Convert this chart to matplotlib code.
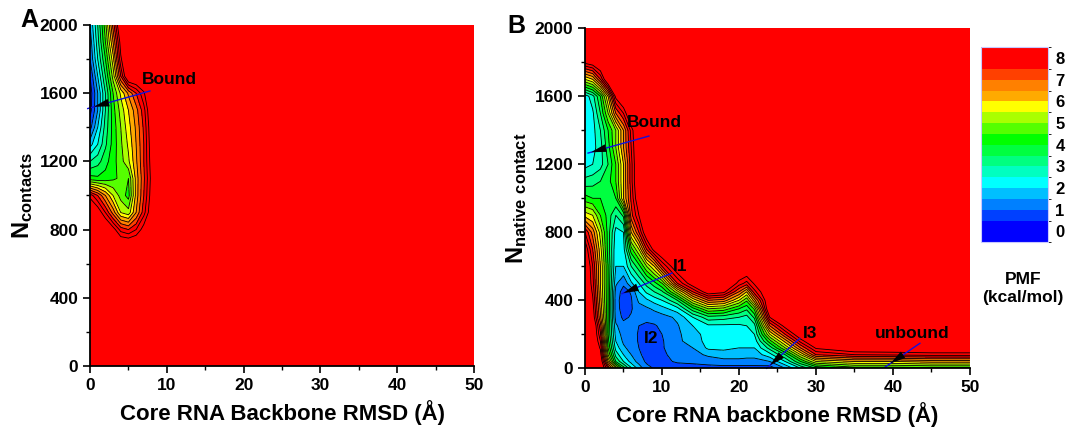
import numpy as np
import matplotlib
matplotlib.use("Agg")
import matplotlib.pyplot as plt
from matplotlib.colors import ListedColormap, BoundaryNorm
from matplotlib.cm import ScalarMappable

plt.rcParams['font.family'] = ['Liberation Sans', 'DejaVu Sans']
plt.rcParams['font.weight'] = 'bold'
plt.rcParams['mathtext.fontset'] = 'custom'
plt.rcParams['mathtext.bf'] = 'Liberation Sans:bold'
plt.rcParams['mathtext.rm'] = 'Liberation Sans:bold'

R = 9.5  # saturated PMF (red)

# Panel A: PMF (kcal/mol) on RMSD (x) vs N contacts (rows)
rmsd_a = [0, 1, 2, 3, 4, 5, 6, 7, 8, 9, 10, 50]
ncont_a = [0, 600, 700, 800, 900, 1000, 1100, 1200, 1300, 1400, 1500, 1600, 1700, 1800, 1900, 2000]
pmf_a = [
    [R, R, R, R, R, R, R, R, R, R, R, R],
    [R, R, R, R, R, R, R, R, R, R, R, R],
    [R, R, R, R, R, R, R, R, R, R, R, R],
    [R, R, R, 8.8, 7.8, 7.5, 8.0, 8.8, R, R, R, R],
    [R, 9.0, 8.0, 6.8, 5.5, 5.2, 6.5, 7.8, 9.0, R, R, R],
    [8.3, 7.5, 6.5, 5.5, 4.8, 4.3, 6.2, 7.5, 8.8, R, R, R],
    [4.2, 4.1, 4.2, 4.4, 4.6, 4.5, 6.2, 7.4, 8.7, R, R, R],
    [3.0, 3.3, 3.8, 4.3, 4.8, 5.4, 6.4, 7.5, 8.8, R, R, R],
    [1.8, 2.5, 3.4, 4.2, 4.9, 5.6, 6.5, 7.5, 8.9, R, R, R],
    [0.8, 2.0, 3.2, 4.2, 5.0, 5.8, 6.6, 7.6, 9.0, R, R, R],
    [0.3, 1.5, 3.0, 4.3, 5.2, 6.0, 6.8, 7.8, 9.2, R, R, R],
    [0.2, 1.5, 3.0, 4.5, 5.6, 6.6, 7.5, 8.4, R, R, R, R],
    [0.5, 2.0, 3.5, 5.2, 7.5, R, R, R, R, R, R, R],
    [1.0, 2.5, 4.0, 5.8, 8.4, R, R, R, R, R, R, R],
    [1.2, 2.8, 4.5, 6.5, 8.8, R, R, R, R, R, R, R],
    [1.5, 3.0, 4.8, 7.2, R, R, R, R, R, R, R, R],
]

# Panel B: PMF on RMSD vs N native contact
rmsd_b = [0, 1, 2, 3, 4, 5, 6, 7, 8, 9, 10, 12, 14, 16, 18, 20, 21, 22, 24, 26, 28, 30, 35, 40, 45, 50]
ncont_b = [0, 40, 80, 120, 160, 200, 250, 300, 350, 400, 450, 500, 600, 700, 800,
           900, 1000, 1100, 1200, 1300, 1400, 1500, 1600, 1700, 1800, 1900, 2000]
pmf_b = [
    [R, R, R, 7.5, 5.5, 3.8, 2.6, 1.8, 1.2, 0.95, 0.9, 0.8, 0.8, 0.8, 0.8, 0.8, 0.8, 0.8, 0.7, 1.5, 2.5, 3.5, 4.2, 4.2, 4.3, 4.3],
    [R, R, 9.2, 6.0, 3.5, 2.5, 1.8, 1.3, 0.9, 0.85, 0.9, 1.05, 1.1, 1.2, 1.3, 1.3, 1.3, 1.3, 1.5, 2.5, 4.0, 5.5, 6.0, 6.0, 6.2, 6.2],
    [R, R, 8.8, 5.0, 2.8, 2.0, 1.5, 1.1, 0.8, 0.8, 0.9, 1.2, 1.3, 1.6, 1.8, 1.8, 1.7, 1.7, 2.3, 3.5, 5.5, 7.5, 8.0, 8.1, 8.2, 8.2],
    [R, R, 8.4, 4.5, 2.3, 1.6, 1.3, 1.0, 0.75, 0.8, 0.95, 1.3, 1.5, 2.1, 2.1, 2.0, 2.0, 2.0, 3.2, 5.0, 7.0, 8.6, 9.2, 9.2, 9.3, 9.3],
    [R, R, 8.0, 4.2, 2.0, 1.4, 1.25, 0.95, 0.75, 0.8, 0.95, 1.4, 1.7, 2.2, 2.1, 2.1, 2.1, 2.2, 4.3, 6.2, 8.2, R, R, R, R, R],
    [R, R, 7.6, 4.0, 1.8, 1.3, 1.2, 0.95, 0.8, 0.85, 1.0, 1.4, 1.8, 2.2, 2.15, 2.2, 2.3, 2.5, 5.5, 7.5, 9.2, R, R, R, R, R],
    [R, R, 7.2, 4.0, 1.6, 1.15, 1.15, 1.0, 0.9, 0.95, 1.1, 1.45, 2.0, 2.4, 2.4, 2.4, 2.5, 2.8, 7.0, 8.8, R, R, R, R, R, R],
    [R, 9.0, 6.6, 4.0, 1.3, 0.9, 1.05, 1.15, 1.15, 1.2, 1.3, 1.6, 2.5, 3.3, 3.2, 3.0, 2.8, 3.6, 8.5, R, R, R, R, R, R, R],
    [R, 8.8, 6.4, 4.0, 1.2, 0.8, 0.95, 1.3, 1.4, 1.6, 1.8, 2.3, 3.8, 5.0, 4.8, 4.0, 3.6, 4.6, R, R, R, R, R, R, R, R],
    [R, 8.6, 6.2, 4.0, 1.2, 0.75, 0.95, 1.6, 1.9, 2.2, 2.5, 3.5, 5.6, 7.0, 6.8, 5.5, 4.6, 6.3, R, R, R, R, R, R, R, R],
    [R, 8.4, 6.1, 4.0, 1.3, 0.8, 1.05, 2.0, 2.6, 3.0, 3.4, 5.3, 7.5, 9.0, 8.7, 7.0, 6.0, 7.8, R, R, R, R, R, R, R, R],
    [R, 8.2, 6.0, 4.0, 1.6, 1.1, 1.9, 2.5, 3.2, 3.8, 4.5, 7.5, 9.0, R, R, 8.3, 7.8, 8.6, R, R, R, R, R, R, R, R],
    [R, 8.0, 6.0, 4.0, 2.0, 2.0, 3.0, 3.8, 5.0, 6.0, 7.5, 9.2, R, R, R, R, R, R, R, R, R, R, R, R, R, R],
    [9.0, 7.5, 5.7, 3.8, 2.1, 2.3, 4.3, 5.5, 7.5, 8.8, R, R, R, R, R, R, R, R, R, R, R, R, R, R, R, R],
    [8.0, 6.8, 5.3, 3.8, 2.3, 2.5, 6.0, 7.5, 9.2, R, R, R, R, R, R, R, R, R, R, R, R, R, R, R, R, R],
    [5.8, 5.5, 4.5, 3.8, 3.0, 3.6, 7.3, 8.5, R, R, R, R, R, R, R, R, R, R, R, R, R, R, R, R, R, R],
    [4.2, 4.0, 4.0, 3.9, 4.0, 6.0, 7.6, 9.2, R, R, R, R, R, R, R, R, R, R, R, R, R, R, R, R, R, R],
    [3.2, 3.3, 3.5, 3.8, 4.5, 6.0, 7.8, R, R, R, R, R, R, R, R, R, R, R, R, R, R, R, R, R, R, R],
    [2.3, 2.5, 2.8, 3.5, 4.5, 6.0, 7.8, R, R, R, R, R, R, R, R, R, R, R, R, R, R, R, R, R, R, R],
    [2.2, 2.3, 2.8, 3.8, 5.0, 6.5, 8.0, R, R, R, R, R, R, R, R, R, R, R, R, R, R, R, R, R, R, R],
    [2.1, 2.3, 3.0, 4.0, 5.0, 6.5, 8.2, R, R, R, R, R, R, R, R, R, R, R, R, R, R, R, R, R, R, R],
    [2.1, 2.4, 3.5, 5.0, 7.0, 8.0, R, R, R, R, R, R, R, R, R, R, R, R, R, R, R, R, R, R, R, R],
    [2.2, 2.8, 4.0, 6.0, 8.7, R, R, R, R, R, R, R, R, R, R, R, R, R, R, R, R, R, R, R, R, R],
    [5.5, 6.0, 7.5, R, R, R, R, R, R, R, R, R, R, R, R, R, R, R, R, R, R, R, R, R, R, R],
    [8.7, 9.0, R, R, R, R, R, R, R, R, R, R, R, R, R, R, R, R, R, R, R, R, R, R, R, R],
    [R] * 26,
    [R] * 26,
]

band_colors = ['#0000FF', '#0040FF', '#0080FF', '#00BFFF', '#00FFFF', '#00FFC0',
               '#00FF80', '#00FF40', '#00FF00', '#55FF00', '#AAFF00', '#FFFF00',
               '#FFAA00', '#FF8000', '#FF4000', '#FF0000']
cbar_ticks = [0, 1, 2, 3, 4, 5, 6, 7, 8]

cmap = ListedColormap(band_colors)
fill_levels = [-1] + list(np.arange(0.5, 7.51, 0.5)) + [12]
line_levels = np.arange(0.5, 8.51, 0.5)

fig = plt.figure(figsize=(10.72, 4.34), dpi=100)
ax_a = fig.add_axes([0.0840, 0.1567, 0.3582, 0.7857])
ax_b = fig.add_axes([0.5457, 0.1514, 0.3591, 0.7834])


def draw_pmf(ax, xs, ys, zz):
    z = np.array(zz, dtype=float)
    ax.contourf(xs, ys, z, levels=fill_levels, colors=band_colors)
    ax.contour(xs, ys, z, levels=line_levels, colors='black', linewidths=0.6)
    ax.set_xlim(0, 50)
    ax.set_ylim(0, 2000)
    ax.set_xticks([0, 10, 20, 30, 40, 50])
    ax.set_xticks(np.arange(5, 50, 10), minor=True)
    ax.set_yticks([0, 400, 800, 1200, 1600, 2000])
    ax.set_yticks(np.arange(200, 2000, 400), minor=True)
    ax.tick_params(which='major', direction='out', length=5, width=1.2, labelsize=12.5)
    ax.tick_params(which='minor', direction='out', length=3, width=1.0)
    for s in ['top', 'right']:
        ax.spines[s].set_visible(False)
    for s in ['left', 'bottom']:
        ax.spines[s].set_linewidth(1.3)


def pointer(ax, start, end, frac):
    tip = (start[0] + (end[0] - start[0]) * frac, start[1] + (end[1] - start[1]) * frac)
    ax.annotate('', xy=tip, xytext=start,
                arrowprops=dict(arrowstyle='-|>,head_length=1.1,head_width=0.28',
                                fc='black', ec='black', lw=0, shrinkA=0, shrinkB=0),
                annotation_clip=False)
    ax.plot([start[0], end[0]], [start[1], end[1]], color='#1010E0', lw=1.0, clip_on=False)


draw_pmf(ax_a, rmsd_a, ncont_a, pmf_a)
draw_pmf(ax_b, rmsd_b, ncont_b, pmf_b)

ax_a.set_xlabel('Core RNA Backbone RMSD (Å)', fontsize=16, fontweight='bold', labelpad=5)
ax_a.set_ylabel(r'$\mathbf{N_{contacts}}$', fontsize=17, labelpad=3)
ax_b.set_xlabel('Core RNA backbone RMSD (Å)', fontsize=16, fontweight='bold', labelpad=5)
ax_b.set_ylabel(r'$\mathbf{N_{native\ contact}}$', fontsize=17, labelpad=4)

fig.text(0.027, 0.955, 'A', fontsize=18, fontweight='bold', ha='center', va='center')
fig.text(0.482, 0.940, 'B', fontsize=18, fontweight='bold', ha='center', va='center')

lab = dict(fontsize=12.5, fontweight='bold', ha='left', va='center')
ax_a.text(6.8, 1683, 'Bound', **lab)
pointer(ax_a, (7.8, 1613), (-0.3, 1510), 0.9)

ax_b.text(5.5, 1447, 'Bound', **lab)
pointer(ax_b, (8.3, 1366), (0.4, 1266), 0.95)
ax_b.text(11.4, 600, 'I1', **lab)
pointer(ax_b, (11.3, 560), (4.8, 439), 0.97)
ax_b.text(7.7, 176, 'I2', **lab)
ax_b.text(28.3, 206, 'I3', **lab)
pointer(ax_b, (27.9, 176), (23.6, 0), 0.9)
ax_b.text(37.7, 206, 'unbound', **lab)
pointer(ax_b, (43.5, 147), (39.0, 8), 0.85)

# colour bar
cax = fig.add_axes([0.915, 0.442, 0.063, 0.449])
bounds = [-0.5] + list(np.arange(0.5, 7.51, 0.5)) + [8.5]
norm = BoundaryNorm(bounds, cmap.N)
cb = fig.colorbar(ScalarMappable(norm=norm, cmap=cmap), cax=cax, ticks=cbar_ticks,
                  spacing='proportional')
cb.ax.tick_params(length=0, labelsize=12, pad=5)
cb.outline.set_edgecolor('#c8c8ff')
cb.outline.set_linewidth(0.8)
fig.text(0.954, 0.335, 'PMF\n(kcal/mol)', fontsize=12.5, fontweight='bold',
         ha='center', va='center', linespacing=1.25)

fig.savefig('out.png', dpi=100)
